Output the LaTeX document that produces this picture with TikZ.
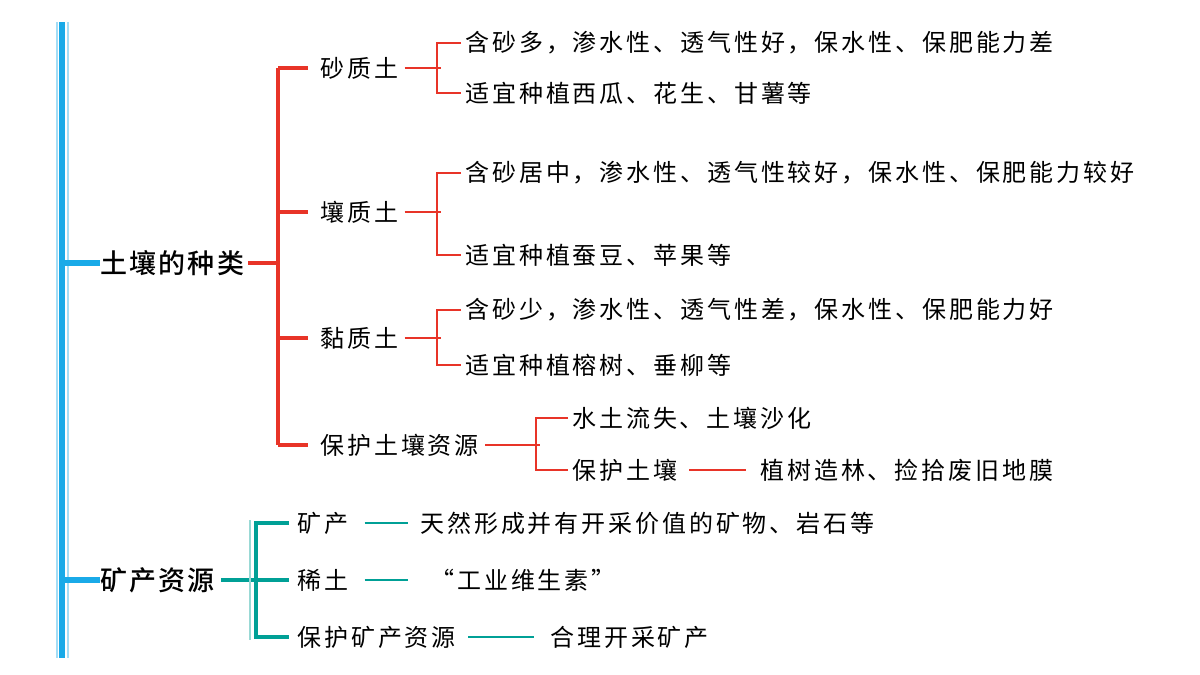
\documentclass[tikz,border=0pt]{standalone}
\usepackage{fontspec}
\newfontfamily\cjk[LetterSpace=12]{Noto Sans CJK SC}
\newfontfamily\cjkb[LetterSpace=8]{Noto Sans CJK SC Medium}
\definecolor{cblue}{RGB}{25,170,232}
\definecolor{cred}{RGB}{232,52,40}
\definecolor{cteal}{RGB}{0,160,150}
\begin{document}
\begin{tikzpicture}[x=0.5pt,y=-0.5pt,
  leaf/.style={anchor=west,inner sep=0pt,font=\cjk\fontsize{12pt}{14pt}\selectfont},
  head/.style={anchor=west,inner sep=0pt,font=\cjkb\fontsize{13.5pt}{15pt}\selectfont},
  bl/.style={cblue,line width=3pt},
  rd/.style={cred,line width=1.6pt},
  rdt/.style={cred,line width=1pt},
  tl/.style={cteal,line width=2.2pt},
  tlt/.style={cteal,line width=1.2pt}]
\useasboundingbox (0,0) rectangle (1200,675);
% blue trunk
\coordinate (bt) at (62,22); \coordinate (bb) at (62,658);
\draw[bl] (bt) -- (bb);
\draw[cblue!40,line width=0.6pt] (57,22) -- (57,658) (68,22) -- (68,658);
\node[head] (h1) at (100,263) {土壤的种类};
\node[head] (h2) at (100,580) {矿产资源};
\coordinate (b1) at (62,263); \coordinate (b2) at (62,580);
\draw[bl] (b1) -- (h1.west);
\draw[bl] (b2) -- (h2.west);
% red
\coordinate (rt) at (278,68); \coordinate (rb) at (278,445); \coordinate (rm) at (278,263);
\draw[rd] (rt) -- (rb);
\draw[rd] ([xshift=2pt]h1.east) -- (rm);
\node[leaf] (s1) at (320,68) {砂质土};
\node[leaf] (s2) at (320,212) {壤质土};
\node[leaf] (s3) at (320,338) {黏质土};
\node[leaf] (s4) at (320,445) {保护土壤资源};
\foreach \n/\y in {s1/68,s2/212,s3/338,s4/445}{
  \coordinate (c\n) at (278,\y);
  \draw[rd] (c\n) -- ([xshift=-6pt]\n.west);}
% sub brackets
\node[leaf] (a1) at (465,43) {含砂多，渗水性、透气性好，保水性、保肥能力差};
\node[leaf] (a2) at (465,93) {适宜种植西瓜、花生、甘薯等};
\node[leaf] (b1n) at (465,173) {含砂居中，渗水性、透气性较好，保水性、保肥能力较好};
\node[leaf] (b2n) at (465,255) {适宜种植蚕豆、苹果等};
\node[leaf] (d1) at (465,310) {含砂少，渗水性、透气性差，保水性、保肥能力好};
\node[leaf] (d2) at (465,365) {适宜种植榕树、垂柳等};
\foreach \p/\u/\l in {s1/a1/a2,s2/b1n/b2n,s3/d1/d2}{
  \draw[rdt] ([xshift=3pt]\p.east) -- ([xshift=-12pt]\u.west |- \p.east);
  \draw[rdt] ([xshift=-2pt]\u.west) -- ++(-24,0) |- ([xshift=-2pt]\l.west);}
\node[leaf] (e1) at (572,418) {水土流失、土壤沙化};
\node[leaf] (e2) at (572,470) {保护土壤};
\node[leaf] (e3) at (760,470) {植树造林、捡拾废旧地膜};
\draw[rdt] ([xshift=3pt]s4.east) -- (540,445);
\draw[rdt] ([xshift=-2pt]e1.west) -- ++(-32,0) |- ([xshift=-2pt]e2.west);
\draw[rdt] ([xshift=6pt]e2.east) -- ([xshift=-7pt]e3.west);
% teal
\node[leaf] (m1) at (297,523) {矿产};
\node[leaf] (m2) at (297,580) {稀土};
\node[leaf] (m3) at (297,637) {保护矿产资源};
\draw[tl] ([xshift=3pt]h2.east) -- (256,580);
\draw[tl] ([xshift=-4pt]m1.west) -- (256,523) -- (256,637) -- ([xshift=-4pt]m3.west);
\draw[tl] (256,580) -- ([xshift=-4pt]m2.west);
\draw[cteal!40,line width=0.6pt] (250,520) -- (250,640);
\node[leaf] (n1) at (420,523) {天然形成并有开采价值的矿物、岩石等};
\node[leaf] (n2) at (430,580) {“工业维生素”};
\node[leaf] (n3) at (550,637) {合理开采矿产};
\draw[tlt] ([xshift=8pt]m1.east) -- ([xshift=-6pt]n1.west);
\draw[tlt] ([xshift=8pt]m2.east) -- (408,580);
\draw[tlt] ([xshift=6pt]m3.east) -- ([xshift=-8pt]n3.west);
\end{tikzpicture}
\end{document}
